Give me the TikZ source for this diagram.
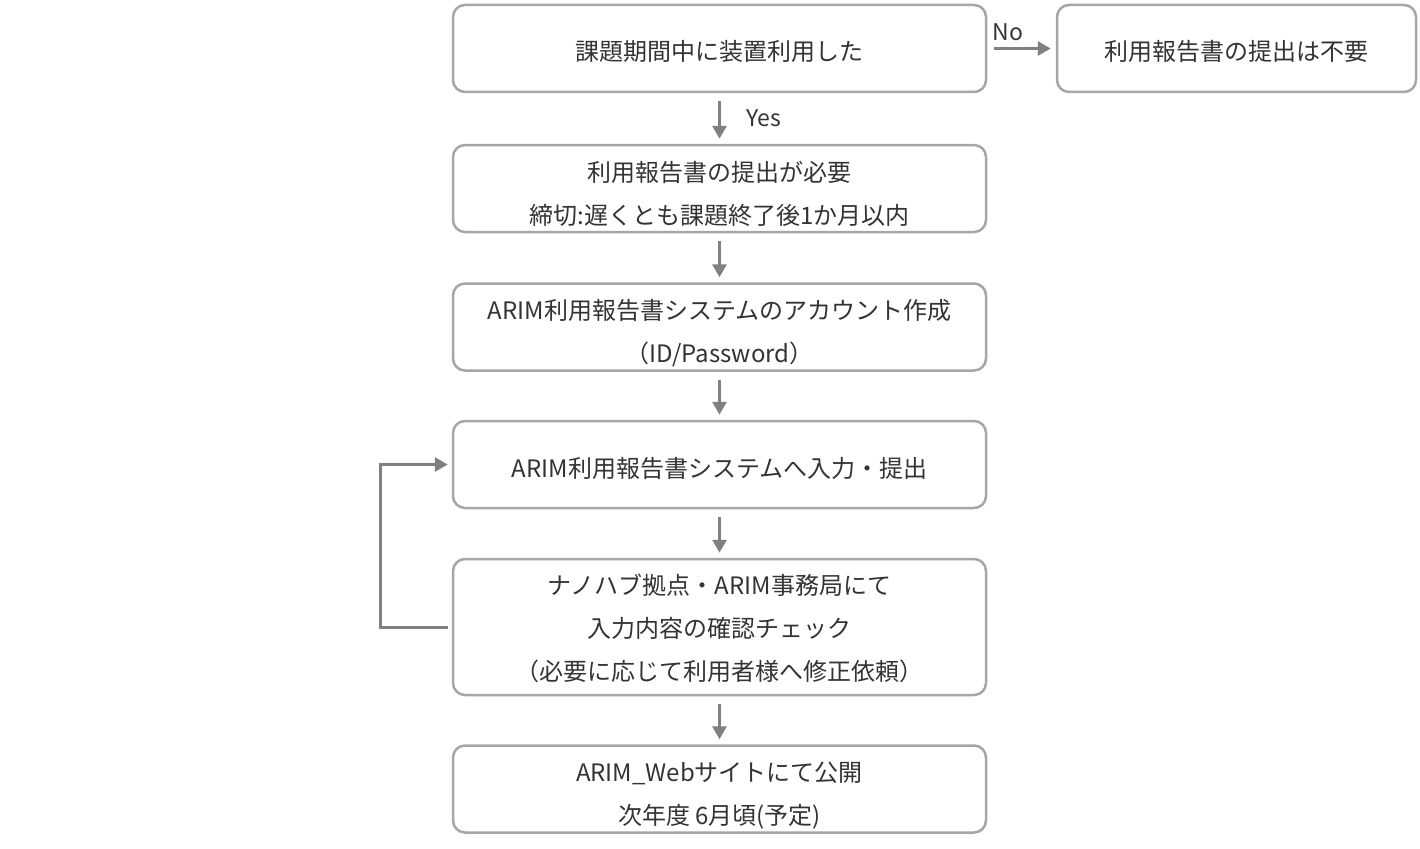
\documentclass[tikz,border=0pt]{standalone}
\usepackage{xcolor}
\usepackage{fontspec}
\setmainfont{Noto Sans CJK JP}
\usepackage{tikz}
\usetikzlibrary{arrows.meta}

\definecolor{boxline}{HTML}{A6A6A6}
\definecolor{arrowgray}{HTML}{808080}
\definecolor{textgray}{HTML}{333333}

\begin{document}
\begin{tikzpicture}[x=1pt,y=-1pt]
\tikzstyle{process} = [rectangle, rounded corners=12pt, minimum width=533pt, minimum height=87pt, text centered, align=center, draw=boxline, line width=2.5pt, text=textgray, font=\fontsize{24}{43}\selectfont, text depth=0pt]
\tikzstyle{arrow} = [line width=3pt, draw=arrowgray, -{Triangle[length=13pt,width=14pt]}]
\tikzstyle{label} = [text=textgray, font=\fontsize{23}{26}\selectfont]

\useasboundingbox (0,0) rectangle (1420,848);

\node (used) [process] at (719.5,48.5) {\rule{0pt}{25pt}課題期間中に装置利用した};
\node (noneed) [process, minimum width=359pt] at (1236.5,48.5) {\rule{0pt}{25pt}利用報告書の提出は不要};
\node (need) [process] at (719.5,188.5) {\rule{0pt}{28pt}利用報告書の提出が必要\\締切:遅くとも課題終了後1か月以内};
\node (account) [process] at (719.5,327) {\rule{0pt}{27pt}ARIM利用報告書システムのアカウント作成\\（ID/Password）};
\node (input) [process] at (719.5,464.5) {\rule{0pt}{25pt}ARIM利用報告書システムへ入力・提出};
\node (check) [process, minimum height=136pt] at (719.5,627) {ナノハブ拠点・ARIM事務局にて\\入力内容の確認チェック\\（必要に応じて利用者様へ修正依頼）};
\node (publish) [process] at (719.5,789) {\rule{0pt}{28pt}ARIM\_Webサイトにて公開\\次年度 6月頃(予定)};

\draw [arrow, shorten <=7pt, shorten >=5pt] (used) -- (noneed) node [label, pos=0.3, above=3pt] {No};
\draw [arrow, shorten <=8pt, shorten >=5pt] (used) -- (need) node [label, midway, right=22pt] {Yes};
\draw [arrow, shorten <=8pt, shorten >=5pt] (need) -- (account);
\draw [arrow, shorten <=8pt, shorten >=5pt] (account) -- (input);
\draw [arrow, shorten <=8pt, shorten >=5pt] (input) -- (check);
\draw [arrow, shorten <=8pt, shorten >=5pt] (check) -- (publish);
\draw [arrow, shorten >=4pt] ([xshift=-4pt]check.west) -- ++(-67,0) |- (input.west);
\end{tikzpicture}
\end{document}
